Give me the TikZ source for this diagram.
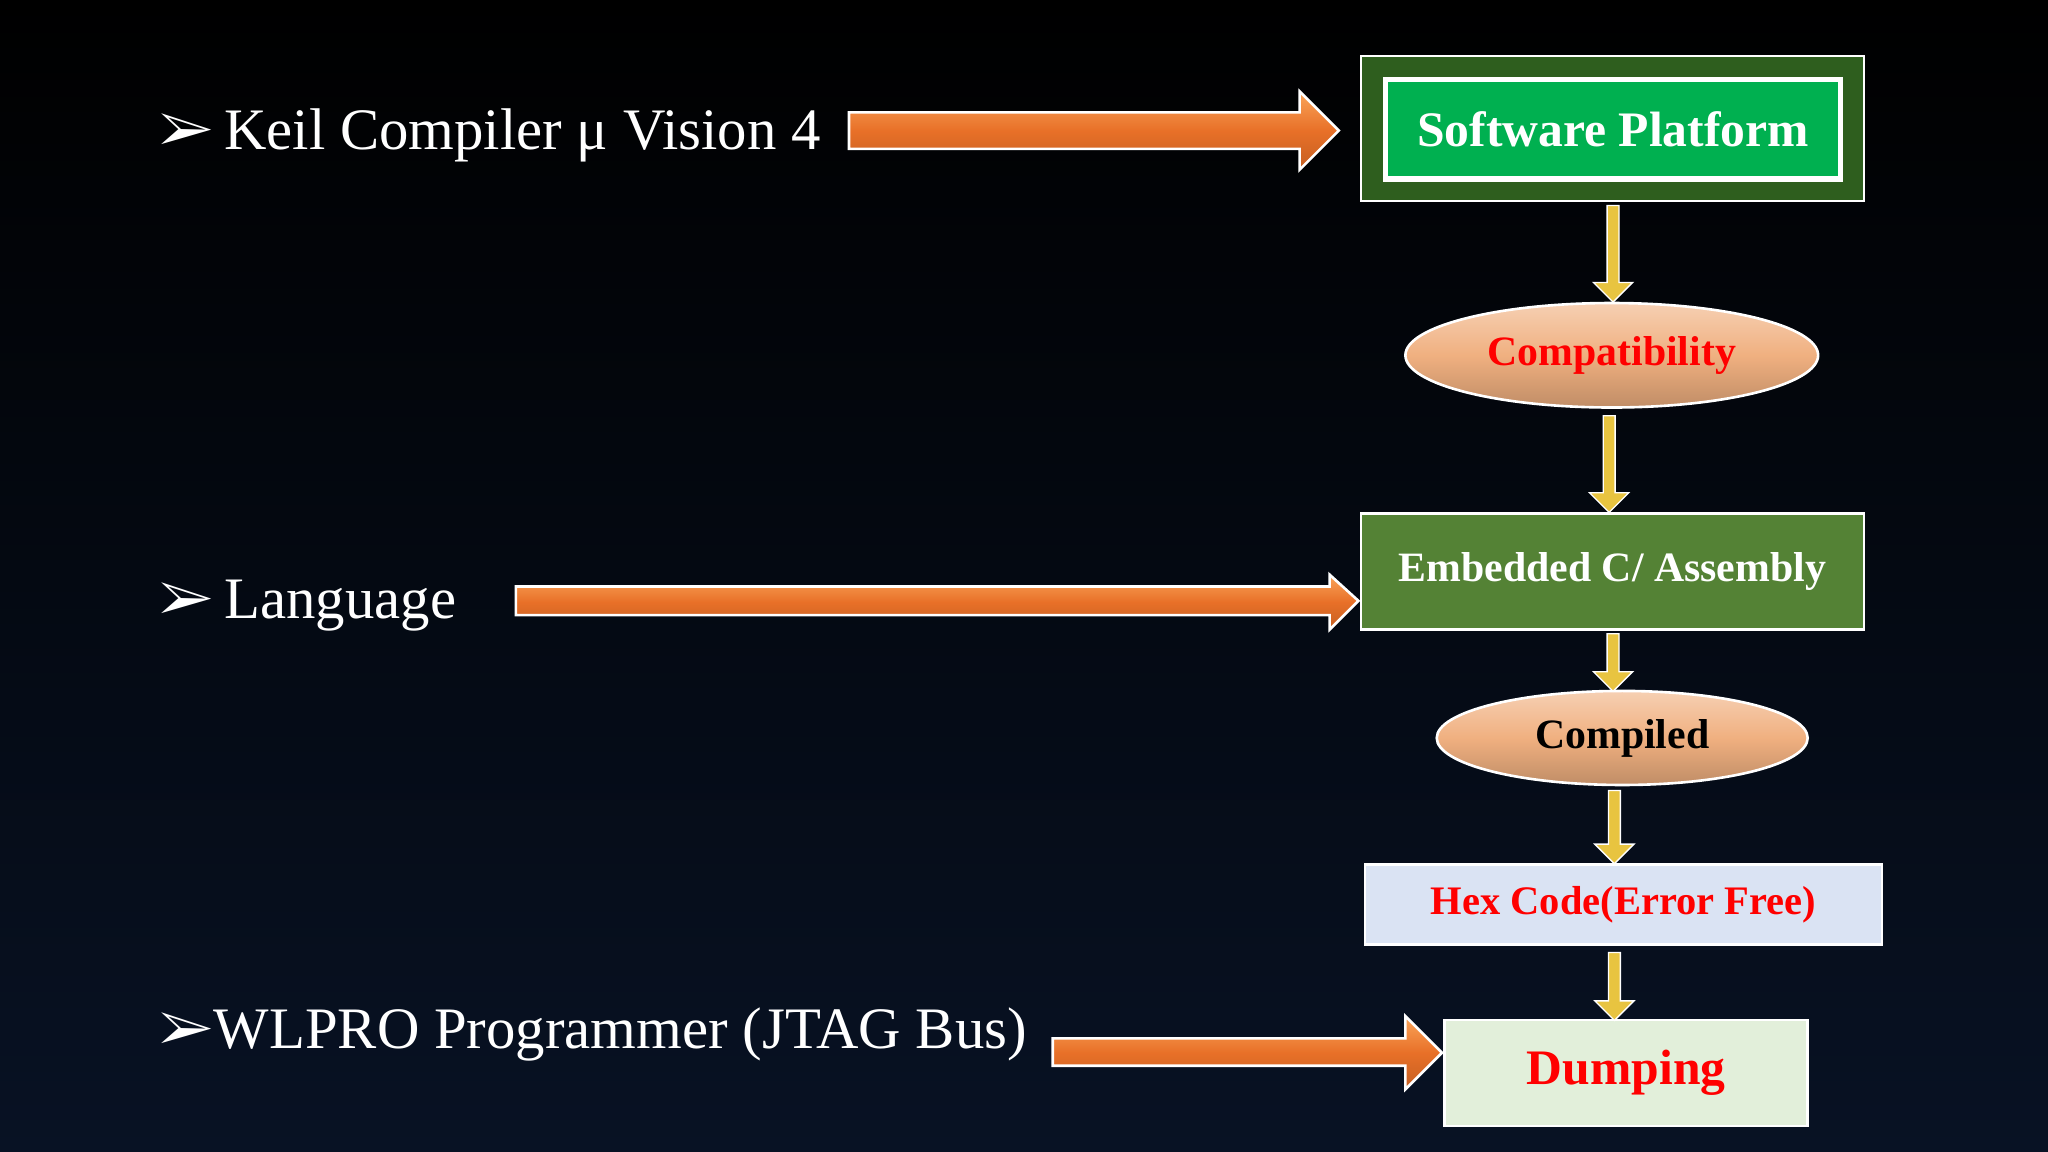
\documentclass[tikz,border=0pt]{standalone}
\usepackage{fontspec}
\setmainfont{Liberation Serif}
\usepackage{pifont}
\usetikzlibrary{shapes.arrows,shapes.geometric}
\definecolor{bgb}{RGB}{8,18,36}
\definecolor{og}{RGB}{232,112,40}
\definecolor{ogl}{RGB}{250,165,90}
\definecolor{yl}{RGB}{232,196,64}
\definecolor{dg}{RGB}{46,94,30}
\definecolor{bg2}{RGB}{0,176,80}
\definecolor{mg}{RGB}{84,130,53}
\definecolor{pe}{RGB}{240,176,128}
\definecolor{lb}{RGB}{218,227,243}
\definecolor{lg}{RGB}{226,239,218}
\begin{document}
\begin{tikzpicture}[x=1pt,y=-1pt,
  txt/.style={anchor=west,text=white,font=\fontsize{45}{48}\selectfont,inner sep=0},
  oarr/.style={draw=white,line width=2pt,line join=miter,top color=ogl,bottom color=og!85!black,middle color=og},
  yarr/.style={draw=white,line width=1pt,fill=yl,single arrow,shape border rotate=270,minimum width=30pt,single arrow head extend=8pt,inner sep=0,minimum height=#1,text width=6pt},
  ell/.style={ellipse,draw=white,line width=2pt,top color=pe!60!white,bottom color=pe!80!black,middle color=pe,font=\bfseries\fontsize{32}{36}\selectfont},
  bx/.style={draw=white,line width=2pt,font=\bfseries\fontsize{32}{36}\selectfont,inner sep=0}]
\shade[top color=black,bottom color=bgb] (0,0) rectangle (1568,882);
\useasboundingbox (0,0) rectangle (1568,882);
% bullets
\node[txt] (t1) at (122,104) {\ding{226}\hspace{8pt}Keil Compiler μ Vision 4};
\node[txt] (t2) at (122,464) {\ding{226}\hspace{8pt}Language};
\node[txt] (t3) at (122,792) {\ding{226}WLPRO Programmer (JTAG Bus)};
% boxes
\node[bx,fill=dg,minimum width=385pt,minimum height=111pt] (sp) at (1234.5,98.5) {};
\node[draw=white,double=white,double distance=2pt,line width=1pt,fill=bg2,minimum width=348pt,minimum height=76pt,text=white,font=\bfseries\fontsize{38}{40}\selectfont] (spi) at (1235,99) {Software Platform};
\node[ell,minimum width=316pt,minimum height=80pt,text=red] (co) at (1234,272) {Compatibility};
\node[bx,fill=mg,minimum width=385pt,minimum height=89pt,text=white,font=\bfseries\fontsize{32}{34}\selectfont] (em) at (1234.5,437.5) {Embedded C/ Assembly};
\node[ell,minimum width=284pt,minimum height=72pt,text=black] (cm) at (1242,565) {Compiled};
\node[bx,fill=lb,minimum width=396pt,minimum height=61pt,text=red,font=\bfseries\fontsize{31}{34}\selectfont] (hx) at (1243,692.5) {Hex Code(Error Free)};
\node[bx,fill=lg,minimum width=278pt,minimum height=81pt,text=red,font=\bfseries\fontsize{38}{40}\selectfont] (du) at (1245,821.5) {Dumping};
% yellow arrows
\node[yarr=74pt] (y1) at (1235,192) {};
\node[yarr=74pt] (y2) at (1232,353) {};
\node[yarr=44pt] (y3) at (1235,505) {};
\node[yarr=56pt] (y4) at (1236,631) {};
\node[yarr=52pt] (y5) at (1236,753) {};
% orange arrows
\draw[oarr] (650,86) -- (995,86) -- (995,70) -- (1025,100) -- (995,130) -- (995,114) -- (650,114) -- cycle;
\draw[oarr] (395,449) -- (1018,449) -- (1018,440) -- (1040,460) -- (1018,482) -- (1018,471) -- (395,471) -- cycle;
\draw[oarr] (806,795) -- (1076,795) -- (1076,778) -- (1104,806) -- (1076,834) -- (1076,816) -- (806,816) -- cycle;
\end{tikzpicture}
\end{document}
